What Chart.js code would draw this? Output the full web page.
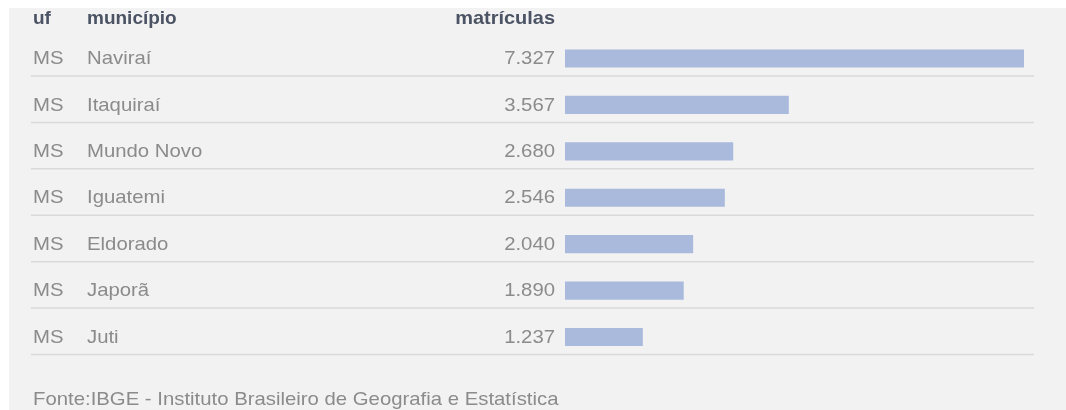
<!DOCTYPE html>
<html lang="pt-BR">
<head>
<meta charset="utf-8">
<title>Matrículas por município - MS</title>
<script src="https://cdn.jsdelivr.net/npm/chart.js@4/dist/chart.umd.min.js"></script>
<style>
  html, body { margin: 0; padding: 0; background: #ffffff; }
  #wrap { width: 1066px; height: 410px; }
</style>
</head>
<body>
<div id="wrap"><canvas id="chart" width="1066" height="410"></canvas></div>
<script>
// Matrículas por município (MS)
const ufs = ['MS', 'MS', 'MS', 'MS', 'MS', 'MS', 'MS'];
const municipios = ['Naviraí', 'Itaquiraí', 'Mundo Novo', 'Iguatemi', 'Eldorado', 'Japorã', 'Juti'];
const matriculas = [7327, 3567, 2680, 2546, 2040, 1890, 1237];
const cabecalho = ['uf', 'município', 'matrículas'];
const fonte = 'Fonte:IBGE - Instituto Brasileiro de Geografia e Estatística';

const FONT = '"Liberation Sans", Arial, Helvetica, sans-serif';

function formatarNumero(n) {
  return String(n).replace(/\B(?=(\d{3})+(?!\d))/g, '.');
}

// text with a slightly wider set width
function texto(ctx, t, x, y, sx) {
  ctx.save();
  ctx.translate(x, y);
  ctx.scale(sx, 1);
  ctx.fillText(t, 0, 0);
  ctx.restore();
}

// Panel background, row separators and the table text columns
const tabela = {
  id: 'tabela',
  beforeDraw(chart) {
    const ctx = chart.ctx;
    ctx.save();
    ctx.fillStyle = '#ffffff';
    ctx.fillRect(0, 0, chart.width, chart.height);
    ctx.fillStyle = '#f2f2f2';
    ctx.fillRect(9, 8, chart.width - 9, chart.height - 8);
    ctx.restore();
  },
  beforeDatasetsDraw(chart) {
    const ctx = chart.ctx;
    const y = chart.scales.y;
    ctx.save();
    ctx.strokeStyle = '#d9d9d9';
    ctx.lineWidth = 1.5;
    municipios.forEach((_, i) => {
      const yy = y.getPixelForValue(i) + 17.5;
      ctx.beginPath();
      ctx.moveTo(31, yy);
      ctx.lineTo(1034, yy);
      ctx.stroke();
    });
    ctx.restore();
  },
  afterDatasetsDraw(chart) {
    const ctx = chart.ctx;
    const y = chart.scales.y;
    const xValor = chart.chartArea.left - 10;
    ctx.save();
    ctx.textBaseline = 'middle';

    // column headers
    ctx.font = 'bold 19px ' + FONT;
    ctx.fillStyle = '#4b5364';
    ctx.textAlign = 'left';
    texto(ctx, cabecalho[0], 33, 19, 1.0);
    texto(ctx, cabecalho[1], 87, 19, 1.0);
    ctx.textAlign = 'right';
    texto(ctx, cabecalho[2], xValor, 19, 1.05);

    // rows
    ctx.font = '19px ' + FONT;
    ctx.fillStyle = '#8b8b8b';
    municipios.forEach((nome, i) => {
      const yy = y.getPixelForValue(i) + 0.5;
      ctx.textAlign = 'left';
      texto(ctx, ufs[i], 33, yy, 1.07);
      texto(ctx, nome, 87, yy, 1.07);
      ctx.textAlign = 'right';
      texto(ctx, formatarNumero(matriculas[i]), xValor, yy, 1.07);
    });

    // source note
    ctx.textAlign = 'left';
    ctx.fillStyle = '#8b8b8b';
    texto(ctx, fonte, 33, 400, 1.07);
    ctx.restore();
  }
};

new Chart(document.getElementById('chart'), {
  type: 'bar',
  data: {
    labels: municipios,
    datasets: [{
      data: matriculas,
      backgroundColor: '#a9badd',
      borderWidth: 0,
      barThickness: 17.5
    }]
  },
  options: {
    indexAxis: 'y',
    responsive: false,
    animation: false,
    devicePixelRatio: 1,
    layout: { padding: { left: 565, right: 42, top: 35.3, bottom: 49.8 } },
    scales: {
      x: { display: false, min: 0, max: Math.max(...matriculas) },
      y: { display: false }
    },
    plugins: {
      legend: { display: false },
      tooltip: { enabled: false }
    }
  },
  plugins: [tabela]
});
</script>
</body>
</html>
